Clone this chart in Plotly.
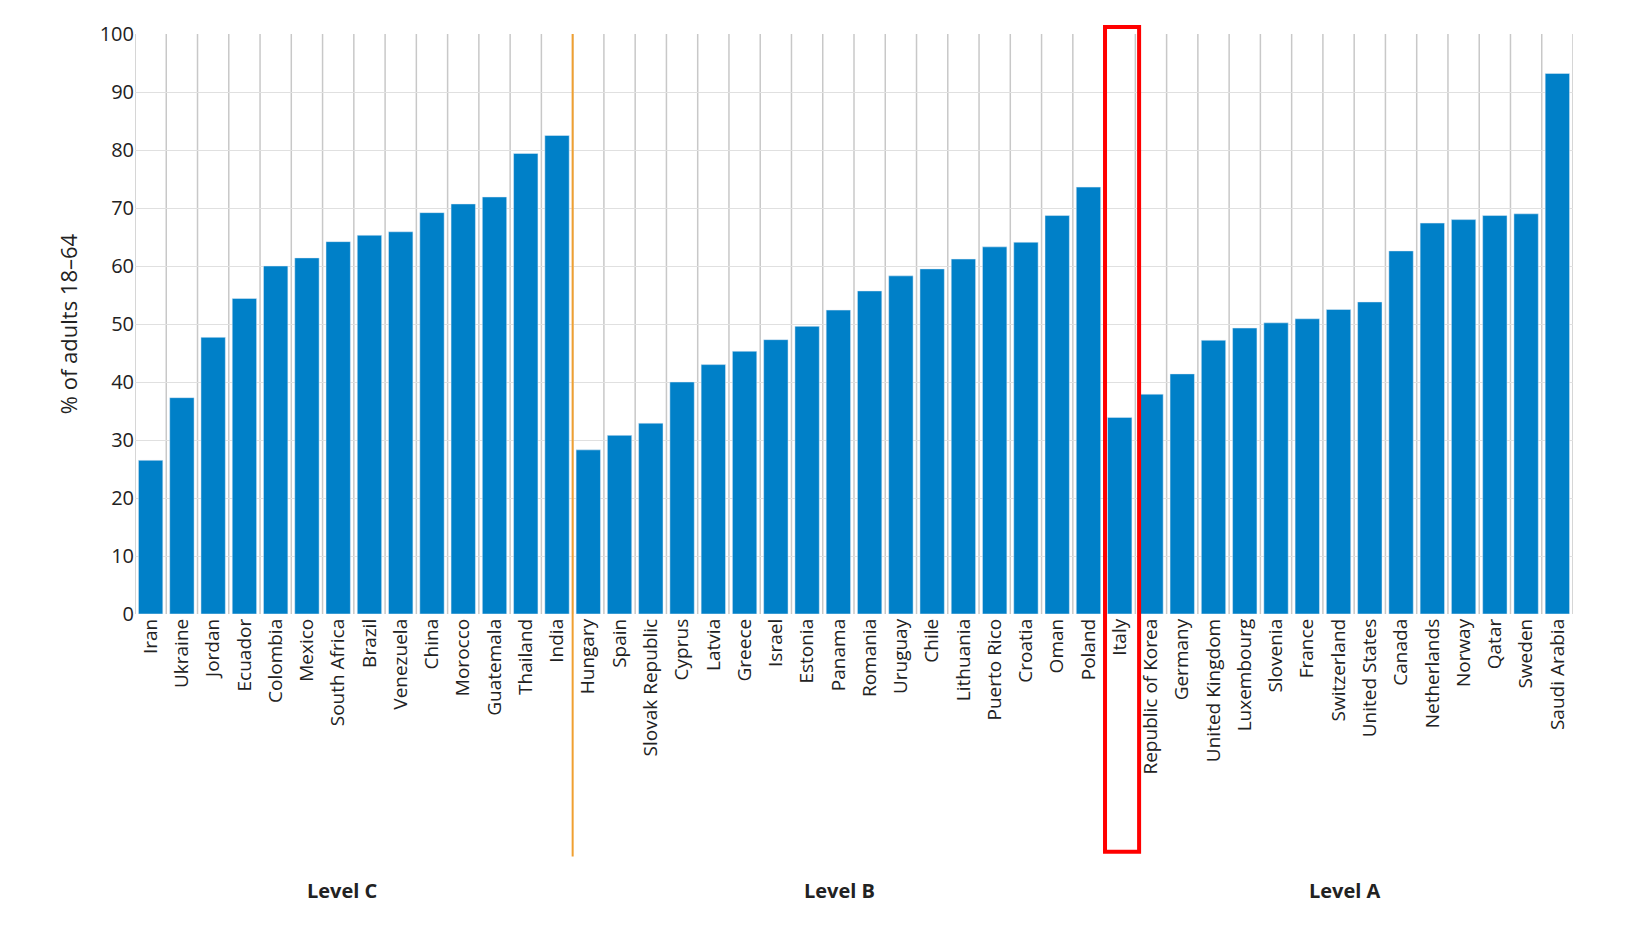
import plotly.graph_objects as go

countries = ["Iran","Ukraine","Jordan","Ecuador","Colombia","Mexico","South Africa","Brazil","Venezuela","China","Morocco","Guatemala","Thailand","India",
 "Hungary","Spain","Slovak Republic","Cyprus","Latvia","Greece","Israel","Estonia","Panama","Romania","Uruguay","Chile","Lithuania","Puerto Rico","Croatia","Oman","Poland","Italy",
 "Republic of Korea","Germany","United Kingdom","Luxembourg","Slovenia","France","Switzerland","United States","Canada","Netherlands","Norway","Qatar","Sweden","Saudi Arabia"]
values = [26.5,37.3,47.7,54.4,60.0,61.4,64.2,65.3,65.9,69.2,70.7,71.9,79.4,82.5,
 28.3,30.8,32.9,40.0,43.0,45.3,47.3,49.6,52.4,55.7,58.3,59.5,61.2,63.3,64.1,68.7,73.6,33.9,
 37.9,41.4,47.2,49.3,50.2,50.9,52.5,53.8,62.6,67.4,68.0,68.7,69.0,93.2]
groups = ["Level C","Level B","Level A"]
group_pos = [6.15, 22.05, 38.2]

n = len(countries)
xs = list(range(n))
fig = go.Figure(go.Bar(x=xs, y=values, marker_color="#0080c8", width=0.78))

shapes = []
for i in range(n + 1):
    shapes.append(dict(type="line", xref="x", yref="y", x0=i-0.5, x1=i-0.5, y0=0, y1=100,
                       line=dict(color="#c8c8c8", width=1.5), layer="below"))
shapes.append(dict(type="line", xref="x", yref="paper", x0=13.5, x1=13.5, y0=-0.418, y1=1,
                   line=dict(color="#f0a030", width=2)))
shapes.append(dict(type="rect", xref="x", yref="paper", x0=30.53, x1=31.62, y0=-0.41, y1=1.012,
                   line=dict(color="red", width=4)))
annotations = [dict(x=p, y=-0.45, xref="x", yref="paper", text=f"<b>{g}</b>", showarrow=False,
                    font=dict(size=20, color="#222"), yanchor="top") for g, p in zip(groups, group_pos)]

fig.update_layout(
    width=1645, height=926, plot_bgcolor="white", paper_bgcolor="white",
    margin=dict(l=127, r=80, t=22, b=320), showlegend=False,
    font=dict(family="Open Sans, sans-serif", size=19, color="#222"),
    shapes=shapes, annotations=annotations,
    xaxis=dict(tickmode="array", tickvals=xs, ticktext=countries, tickangle=-90,
               range=[-0.5, n-0.5], showgrid=False, ticks="", tickfont=dict(size=19)),
    yaxis=dict(range=[0, 100], dtick=10, gridcolor="#e0e0e0", zeroline=False,
               title=dict(text="% of adults 18–64", font=dict(size=22)), tickfont=dict(size=20)),
)
fig.write_html("out.html")
